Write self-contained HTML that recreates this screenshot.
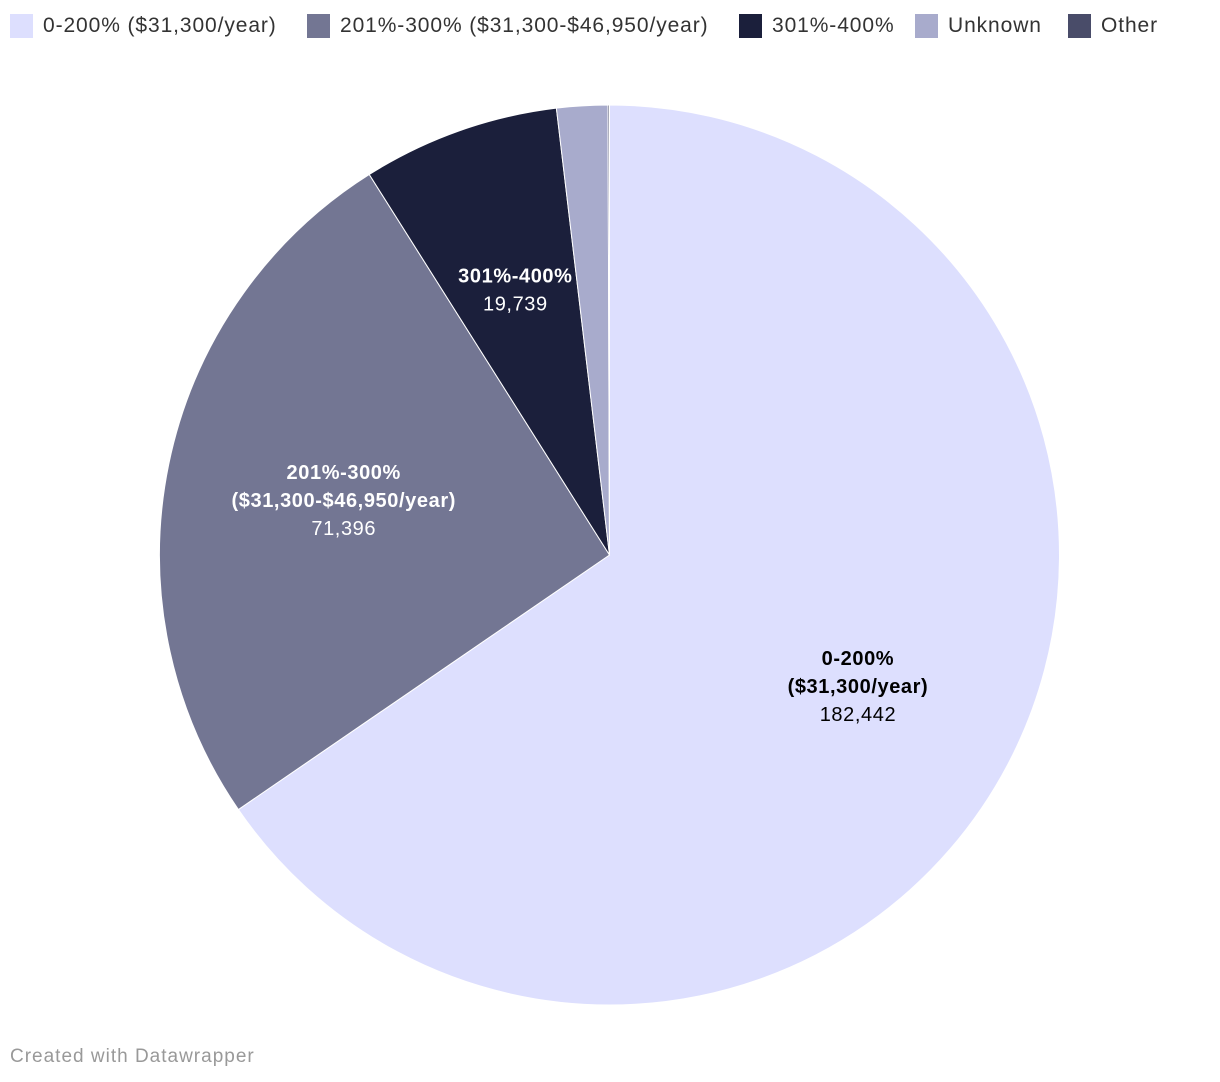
<!DOCTYPE html>
<html><head><meta charset="utf-8"><style>
body{margin:0;background:#fff;font-family:"Liberation Sans",sans-serif;}
#wrap{position:relative;width:1220px;height:1082px;overflow:hidden}
.leg{position:absolute;top:14px;display:flex;align-items:center;font-size:21px;letter-spacing:0.9px;color:#333;white-space:nowrap}
.sw{width:23px;height:24px;margin-right:10px}
#credit{position:absolute;left:10px;top:1046px;font-size:19px;letter-spacing:1px;color:#999}
</style></head><body>
<div id="wrap">
<div class="leg" style="left:10px"><div class="sw" style="background:#dddffe"></div>0-200% ($31,300/year)</div>
<div class="leg" style="left:307px"><div class="sw" style="background:#737693"></div>201%-300% ($31,300-$46,950/year)</div>
<div class="leg" style="left:739px"><div class="sw" style="background:#1b1f3b"></div>301%-400%</div>
<div class="leg" style="left:915px"><div class="sw" style="background:#a8abcc"></div>Unknown</div>
<div class="leg" style="left:1068px"><div class="sw" style="background:#494c69"></div>Other</div>
<svg id="pie" width="1220" height="1082" style="position:absolute;left:0;top:0"></svg>
<div id="credit">Created with Datawrapper</div>
</div>
<script>
const categories=["0-200%","201%-300%","301%-400%","Unknown","Other"];
const values=[182442,71396,19739,5100,150];
const colors=["#dddffe","#737693","#1b1f3b","#a8abcc","#494c69"];
const svg=document.getElementById('pie');
const NS="http://www.w3.org/2000/svg";
const cx=609.5,cy=555,r=450;
const total=values.reduce((a,b)=>a+b,0);
function pt(a,rr){return [cx+rr*Math.sin(a),cy-rr*Math.cos(a)];}
let a0=0;
const mids=[];
values.forEach((v,i)=>{
  const a1=a0+v/total*2*Math.PI;
  const p0=pt(a0,r),p1=pt(a1,r);
  const large=(a1-a0)>Math.PI?1:0;
  const path=document.createElementNS(NS,'path');
  path.setAttribute('d',`M${cx},${cy}L${p0[0]},${p0[1]}A${r},${r} 0 ${large} 1 ${p1[0]},${p1[1]}Z`);
  path.setAttribute('fill',colors[i]);
  path.setAttribute('stroke','#fff');
  path.setAttribute('stroke-width','1');
  
  
  svg.appendChild(path);
  mids.push((a0+a1)/2);
  a0=a1;
});
const labels=[
 {i:0,lines:["0-200%","($31,300/year)"],fill:"#000",rr:0.624},
 {i:1,lines:["201%-300%","($31,300-$46,950/year)"],fill:"#fff",rr:0.603},
 {i:2,lines:["301%-400%"],fill:"#fff",rr:0.626}
];
labels.forEach(L=>{
  const p=pt(mids[L.i],r*L.rr);
  const n=L.lines.length+1;
  const y0=p[1]-(n-1)*28/2+7;
  const t=document.createElementNS(NS,'text');
  t.setAttribute('text-anchor','middle');
  t.setAttribute('font-size','20');
  t.setAttribute('letter-spacing','0.6');
  t.setAttribute('fill',L.fill);
  t.setAttribute('font-family','Liberation Sans, sans-serif');
  
  
  L.lines.forEach((s,k)=>{
    const ts=document.createElementNS(NS,'tspan');
    ts.setAttribute('x',p[0]);ts.setAttribute('y',y0+k*28);
    ts.setAttribute('font-weight','bold');ts.textContent=s;t.appendChild(ts);
  });
  const ts=document.createElementNS(NS,'tspan');
  ts.setAttribute('x',p[0]);ts.setAttribute('y',y0+L.lines.length*28);
  ts.textContent=values[L.i].toLocaleString('en-US');t.appendChild(ts);
  svg.appendChild(t);
});
</script>
</body></html>
